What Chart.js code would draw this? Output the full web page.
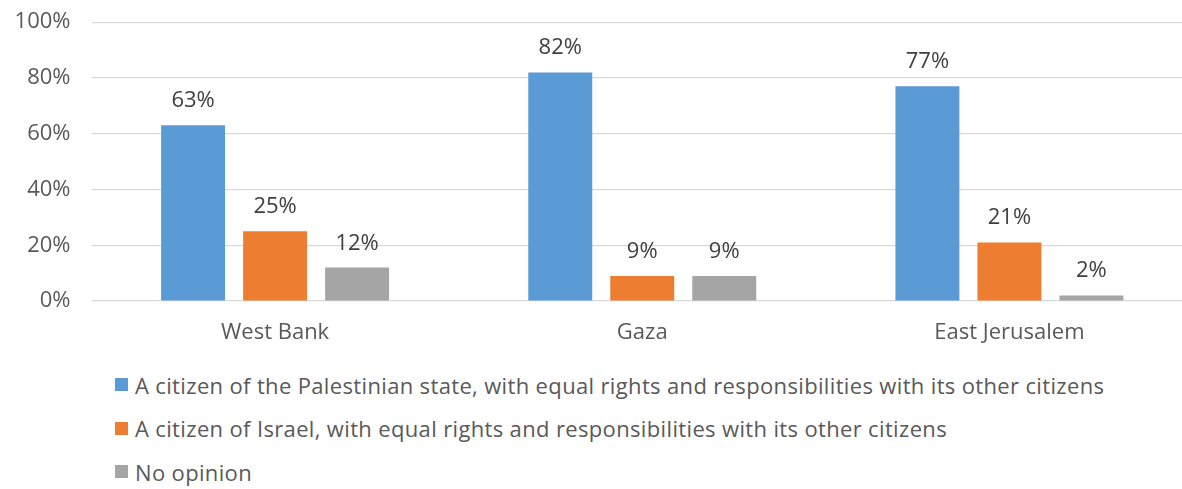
<!DOCTYPE html>
<html>
<head>
<meta charset="utf-8">
<script src="https://cdn.jsdelivr.net/npm/chart.js@4/dist/chart.umd.min.js"></script>
<style>
  html, body { margin: 0; padding: 0; background: #fff; overflow: hidden; width: 1182px; height: 489px; }
  #wrap { position: absolute; left: 0; top: -12px; width: 1193px; height: 372px; }
  #legend { position: absolute; left: 115px; top: 363px; font-family: "Open Sans", sans-serif; font-size: 22px; letter-spacing: 0.35px; color: #595959; }
  .item { height: 43.5px; display: flex; align-items: center; white-space: nowrap; }
  .box { width: 13px; height: 13px; margin-right: 7px; flex: none; }
</style>
</head>
<body>
<div id="wrap"><canvas id="chart"></canvas></div>
<div id="legend"></div>
<script>
const categories = ['West Bank', 'Gaza', 'East Jerusalem'];
const seriesNames = [
  'A citizen of the Palestinian state, with equal rights and responsibilities with its other citizens',
  'A citizen of Israel, with equal rights and responsibilities with its other citizens',
  'No opinion'
];
const palestinianState = [63, 82, 77];
const israel = [25, 9, 21];
const noOpinion = [12, 9, 2];
const colors = ['#5B9BD5', '#ED7D31', '#A5A5A5'];
const yTicks = [0, 20, 40, 60, 80, 100];

const FONT = '"Open Sans", sans-serif';

// draw the value above each bar
const valueLabels = {
  id: 'valueLabels',
  afterDatasetsDraw(chart) {
    const ctx = chart.ctx;
    ctx.save();
    ctx.font = '22px ' + FONT;
    ctx.fillStyle = '#404040';
    ctx.textAlign = 'center';
    ctx.textBaseline = 'alphabetic';
    chart.data.datasets.forEach((ds, i) => {
      chart.getDatasetMeta(i).data.forEach((bar, j) => {
        ctx.fillText(ds.data[j] + '%', bar.x, bar.y - 18);
      });
    });
    ctx.restore();
  }
};

const chart = new Chart(document.getElementById('chart'), {
  type: 'bar',
  data: {
    labels: categories,
    datasets: [palestinianState, israel, noOpinion].map((d, i) => ({
      label: seriesNames[i],
      data: d,
      backgroundColor: colors[i],
      categoryPercentage: 0.67,
      barPercentage: 0.78
    }))
  },
  options: {
    responsive: true,
    maintainAspectRatio: false,
    animation: false,
    layout: { padding: { top: 11, left: 0, right: 0, bottom: 0 } },
    plugins: {
      legend: { display: false },
      tooltip: { enabled: false }
    },
    scales: {
      x: {
        grid: { display: false, drawTicks: false },
        border: { display: false },
        ticks: { color: '#595959', font: { family: FONT, size: 22 }, padding: 19 },
        afterFit(axis) { axis.height = 59; }
      },
      y: {
        min: 0,
        max: 100,
        afterBuildTicks(axis) { axis.ticks = yTicks.map(v => ({ value: v })); },
        grid: { color: '#D9D9D9', lineWidth: 1.2, drawTicks: false },
        border: { display: false },
        ticks: {
          color: '#595959',
          font: { family: FONT, size: 22 },
          padding: 21,
          callback: v => v + '%'
        },
        afterFit(axis) { axis.width = 91.5; }
      }
    }
  },
  plugins: [valueLabels]
});

// legend built from the datasets, one per line like the original
document.getElementById('legend').innerHTML = chart.data.datasets.map(ds =>
  `<div class="item"><span class="box" style="background:${ds.backgroundColor}"></span>${ds.label}</div>`
).join('');
</script>
</body>
</html>
